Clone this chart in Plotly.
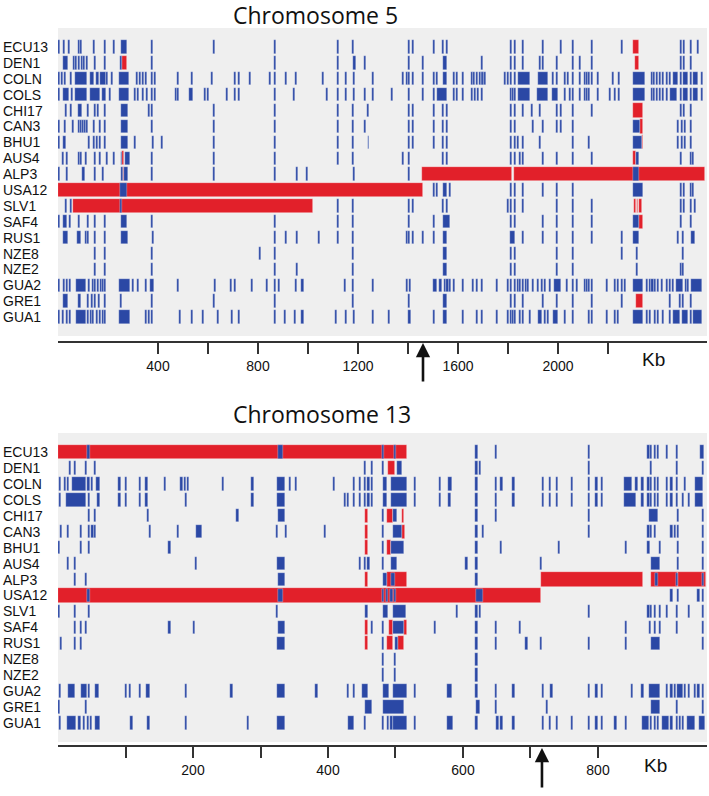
import plotly.graph_objects as go

# ---------------- Data ----------------
strains = ["ECU13", "DEN1", "COLN", "COLS", "CHI17", "CAN3", "BHU1", "AUS4", "ALP3",
           "USA12", "SLV1", "SAF4", "RUS1", "NZE8", "NZE2", "GUA2", "GRE1", "GUA1"]

# Chromosome 5 (kb). Number = single SNP tick, (start, end) = dense block
c5_ECU13 = [4, 24, 45, 83, 92, 145, 189, 224, (252, 277), 375, 624, 868, 1121, 1181, 1405, 1421, 1505, 1539, 1555,
            1812, 1828, 1861, 1941, 2011, 2061, 2136, 2256, 2491, 2505, 2531, 2561]
c5_DEN1 = [(21, 41), 64, 72, 83, 95, 105, 117, 148, 189, 251, 375, 868, 1121, (1178, 1190), 1228, 1405, 1459,
           (1539, 1555), 1695, 1812, 1828, 1861, 1928, 1941, 1995, 2061, 2088, 2136, 2491, 2505, 2531]
c5_COLN = [4, 15, 28, 51, (68, 117), (128, 144), (152, 163), (168, 192), 197, 215, (245, 285), 315, 328, 339, 351, 375,
           388, 481, 535, 615, 709, 723, 768, 848, 868, 912, 952, 1059, 1121, 1152, 1184, 1259, 1379, 1395, 1405,
           1421, 1459, 1505, 1515, (1539, 1555), 1584, 1597, 1621, 1655, 1665, 1675, 1688, 1695, 1701, 1708, 1788,
           1801, 1812, 1828, (1841, 1888), (1921, 1960), 1981, 1995, 2028, 2041, 2061, 2088, 2108, 2117, 2125, 2136,
           2161, 2221, 2245, (2301, 2348), 2375, 2385, 2395, 2408, 2421, 2435, 2448, (2461, 2481), 2491, (2501, 2521),
           2531, (2541, 2561), 2575]
c5_COLS = [4, (21, 45), 55, (68, 117), (128, 168), (175, 192), 208, (245, 285), 308, 321, 339, 355, 375, 388, 472, 481,
           (525, 539), 588, 601, 675, 709, 723, 868, 945, 1075, 1121, 1152, 1184, 1228, 1259, 1335, 1405, 1461, 1505,
           (1515, 1555), 1584, 1597, 1621, 1655, 1668, 1681, 1695, 1812, 1821, 1828, (1841, 1888), (1915, 1960),
           (1975, 2001), 2028, 2048, 2061, 2088, 2108, 2117, 2125, 2161, 2208, 2228, 2245, (2301, 2348), 2375, 2385,
           2395, 2408, 2421, 2435, (2448, 2475), 2491, (2501, 2521), 2531, (2541, 2561), 2575]
c5_CHI17 = [32, 51, (81, 95), 121, 148, 159, 189, (252, 281), 365, 375, 624, 868, 1121, 1181, 1241, 1405, 1421, 1505,
            1539, 1555, 1812, 1828, 1861, 1895, 1928, 1995, 2011, 2061, 2136, 2491, 2505, 2531]
c5_CAN3 = [4, (24, 32), 61, 83, 92, 100, 108, 117, 145, 168, 189, (252, 281), 375, 624, 868, 1121, 1181, 1228, 1405,
           1421, 1505, 1539, 1555, 1812, 1828, 1901, 1941, 1995, 2011, 2061, (2301, 2328), 2481, 2495, 2508, 2531]
c5_BHU1 = [4, (21, 32), 125, 145, 155, 168, 189, (252, 281), 308, (375, 384), 415, 624, 868, 1121, 1181, (1238, 1245),
           1405, 1421, 1505, 1539, 1555, 1812, 1828, 1841, 1861, 1928, 2061, 2125, (2301, 2335), 2481, 2495, 2508, 2531]
c5_AUS4 = [21, 35, 83, 92, 112, 148, 168, 195, 224, (252, 256), (266, 288), 375, 624, 868, 1121, 1181, 1379, 1405,
           1539, 1555, 1812, 1828, 1848, 1861, 1941, 1995, 2061, 2136, (2311, 2325), 2491, 2531, 2541]
c5_ALP3 = [4, 35, (95, 108), 148, 181, (252, 258), (265, 281), 375, 624, 868, 955, 997, 1184, 1405, (2301, 2325)]
c5_USA12 = [(248, 277), 1505, 1515, (1539, 1555), 1568, 1812, 1828, 1861, 1941, 1995, 2061, (2301, 2338), 2491,
            2505, 2531, 2541]
c5_SLV1 = [32, 51, 252, 1121, 1181, 1405, 1421, 1539, 1555, 1801, 1812, 1828, 1861, 1995, 2061, 2136, 2491, 2505,
           2531, 2548]
c5_SAF4 = [4, (21, 35), 48, 85, 121, 148, 189, (250, 277), 375, 868, 1121, 1181, 1405, 1505, (1539, 1568), 1812, 1828,
           1941, 1995, 2061, 2136, (2301, 2325), 2491, 2531]
c5_RUS1 = [(21, 41), (75, 92), 112, 121, 148, 189, (250, 280), (375, 384), 868, 911, 955, 1045, 1121, 1181, 1395, 1405,
           1421, 1461, 1505, (1539, 1555), (1808, 1828), 1861, 1941, 1995, 2061, 2136, 2256, (2301, 2325), 2481, 2501,
           (2531, 2548)]
c5_NZE8 = [148, 189, 375, 808, 868, 1181, (1539, 1555), 1812, 1828, 1995, 2061, 2256, 2315, 2501]
c5_NZE2 = [148, 189, 375, 868, 955, 1181, (1539, 1555), 1812, 1828, 1995, 2061, 2315, 2491, 2501]
c5_GUA2 = [4, 24, 35, 48, (72, 112), 125, 140, 148, (155, 163), 172, 181, 189, (245, 288), 301, 321, 351, (368, 384),
           481, (622, 630), 692, 708, 775, 835, 868, 885, 952, 978, 1147, 1181, 1259, 1395, 1408, (1500, 1515), 1530,
           1548, 1558, 1568, 1584, 1621, 1661, 1675, 1695, 1755, 1801, 1812, 1828, 1841, 1848, 1861, 1872, 1881,
           (1895, 1904), 1921, 1935, 1948, 1968, (1985, 2011), 2035, 2061, 2075, 2108, 2117, 2125, 2137, 2197, 2228,
           2241, 2255, 2268, (2301, 2341), 2355, 2368, 2378, 2388, 2401, 2415, 2435, 2448, 2461, (2471, 2501), 2511,
           2521, (2531, 2575)]
c5_GRE1 = [(21, 41), (80, 92), 121, 135, 148, 164, 189, 252, 375, 624, 868, 1181, 1405, (1539, 1555), 1812, 1828, 1861,
           1941, 1995, 2061, 2136, 2256, 2448, 2488, 2501, 2531]
c5_GUA1 = [4, 21, 35, 48, (72, 112), 121, 131, 141, 155, 168, 181, 189, (245, 288), 351, 365, 375, 488, 535, 579, 639,
           697, 723, 868, 908, 948, 978, 1111, 1152, 1184, 1259, 1325, (1398, 1410), 1505, (1539, 1555), 1621,
           (1671, 1681), 1695, 1755, 1801, 1812, 1821, 1828, 1848, 1861, 1888, (1921, 1935), 1948, 1961, (1981, 2001),
           2028, 2061, 2125, 2136, 2197, 2228, 2241, (2301, 2341), 2355, 2368, 2388, 2401, 2421, 2448, (2461, 2488),
           (2495, 2521), 2531, (2541, 2575)]

# red introgression segments, chromosome 5: (strain, start, end)
c5_red = [("ECU13", 2301, 2325), ("DEN1", 257, 275), ("DEN1", 2308, 2325), ("CHI17", 2301, 2341),
          ("CAN3", 2328, 2341), ("BHU1", 2335, 2341), ("AUS4", 257, 265), ("AUS4", 2301, 2311),
          ("ALP3", 259, 264), ("ALP3", 1455, 1817), ("ALP3", 1822, 2588), ("USA12", 0, 1461),
          ("SLV1", 61, 1021), ("SLV1", 2305, 2311), ("SLV1", 2315, 2321), ("SLV1", 2325, 2335),
          ("SAF4", 2325, 2341), ("GRE1", 2311, 2341)]

# Chromosome 13 (kb)
c13_ECU13 = [45, (326, 334), 481, 499, 620, 649, 787, 875, 879, 884, 889, 902, 917, (951, 957)]
c13_DEN1 = [18, 25, 41, 55, 455, 465, 481, (502, 509), 620, 625, 787, 879, 917, 956]
c13_COLN = [(1, 5), 10, 15, (20, 41), 45, 50, (57, 62), 91, 101, 121, 131, 158, 183, 188, 193, 244, 288, (324, 337),
            344, 353, 409, 438, 447, 455, 460, 465, (481, 487), (494, 517), 529, 566, (578, 583), 620, 649, 657, 675,
            719, 729, 739, 762, 787, 798, 806, (838, 850), 857, 866, 875, 879, 884, 889, 902, 909, 917, 929,
            (944, 956)]
c13_COLS = [(1, 5), (12, 41), 46, 60, 91, 101, 121, (129, 134), 190, 288, (324, 337), 425, 430, 439, 447, 455, 460,
            465, (481, 487), (494, 517), 529, 566, 580, 620, 649, 675, 719, 729, 739, 762, 787, 798, 806,
            (838, 857), 866, 875, 879, 884, 889, 902, 909, 917, 926, 935, (944, 956)]
c13_CHI17 = [46, 55, 133, 266, (326, 336), 481, (497, 502), 620, 649, 787, (875, 889), 919, 956]
c13_CAN3 = [4, 15, 34, 46, 51, 55, 136, 178, (205, 213), 324, 338, 396, 481, (497, 509), 620, 630, 787, 875, 879, 884,
            909, 914, 919, 956]
c13_BHU1 = [1, 34, 46, 165, 481, (494, 512), 620, 656, 742, 842, 875, 892, 919, 956]
c13_AUS4 = [15, 25, (203, 206), (324, 337), 447, 455, 460, 481, (494, 502), 605, 620, 716, (879, 892), 919, 956]
c13_ALP3 = [25, 41, (326, 336), (481, 487), (494, 499), 620, (884, 889), 917, 956]
c13_USA12 = [45, (326, 334), 481, 487, 494, 499, (620, 630), 909, 919, 949, 956]
c13_SLV1 = [1, 25, 46, 324, (455, 460), (481, 489), (497, 515), 591, 620, 625, 787, 875, 879, 884, 892, 902, 917,
            935, 956]
c13_SAF4 = [25, 34, 41, 165, (200, 203), (326, 337), 465, 481, (497, 512), 559, 620, 649, 684, 842, 877, 884, 892,
            917, 956]
c13_RUS1 = [4, 25, 34, (324, 337), 481, (499, 504), 620, 649, 694, 716, 787, 842, (879, 892), 956]
c13_NZE8 = [481, 499, 620]
c13_NZE2 = [481, 499, 620]
c13_GUA2 = [(1, 5), (15, 25), (34, 43), 46, (55, 60), 101, 107, 121, (131, 136), 190, 257, (324, 337), 383, 430, 438,
            (450, 460), (481, 491), (497, 517), 529, (576, 583), 620, 649, 675, 719, (729, 734), 787, 798, 806, 850,
            866, (875, 892), 902, 909, 914, (917, 926), 929, 935, 944, 949, 956]
c13_GRE1 = [1, 41, (455, 465), (481, 512), (620, 625), 649, 724, (879, 892), 917, 956]
c13_GUA1 = [(1, 5), (14, 26), 32, 38, 44, 49, (55, 62), 109, 134, 190, 282, (324, 337), (430, 438), 455, 482, 489,
            494, (497, 517), 529, (576, 585), 620, 651, 657, 675, 719, 729, 739, 762, 787, 798, 806, 826, 842,
            (865, 875), 879, 884, 889, (895, 905), 909, 917, 921, 926, (932, 944), (949, 958)]

c13_red = [("ECU13", 0, 517), ("DEN1", 489, 499), ("CHI17", 455, 459), ("CHI17", 487, 497), ("CHI17", 509, 512),
           ("CAN3", 455, 459), ("CAN3", 509, 514), ("BHU1", 455, 459), ("BHU1", 487, 494),
           ("ALP3", 455, 460), ("ALP3", 487, 517), ("ALP3", 716, 867), ("ALP3", 879, 918), ("ALP3", 919, 960),
           ("USA12", 0, 716), ("SAF4", 455, 460), ("SAF4", 491, 497), ("SAF4", 512, 517),
           ("RUS1", 455, 460), ("RUS1", 487, 497), ("RUS1", 504, 512)]

c5_ticks = [400, 600, 800, 1000, 1200, 1400, 1600, 1800, 2000, 2200]
c5_labels = ["400", "", "800", "", "1200", "", "1600", "", "2000", ""]
c13_ticks = [100, 200, 300, 400, 500, 600, 700, 800]
c13_labels = ["", "200", "", "400", "", "600", "", "800"]
c5_arrow_kb = 1460
c13_arrow_kb = 717

c5_blue = [c5_ECU13, c5_DEN1, c5_COLN, c5_COLS, c5_CHI17, c5_CAN3, c5_BHU1, c5_AUS4, c5_ALP3,
           c5_USA12, c5_SLV1, c5_SAF4, c5_RUS1, c5_NZE8, c5_NZE2, c5_GUA2, c5_GRE1, c5_GUA1]
c13_blue = [c13_ECU13, c13_DEN1, c13_COLN, c13_COLS, c13_CHI17, c13_CAN3, c13_BHU1, c13_AUS4, c13_ALP3,
            c13_USA12, c13_SLV1, c13_SAF4, c13_RUS1, c13_NZE8, c13_NZE2, c13_GUA2, c13_GRE1, c13_GUA1]

# ---------------- Figure ----------------
BLUE = "#2b48a5"
RED = "#e2202a"
GRAY = "#efefef"
W, H = 709, 796


def blue_trace(rows, tick_w, xa, ya):
    ys, bases, lens = [], [], []
    for i, lst in enumerate(rows):
        for m in lst:
            if isinstance(m, tuple):
                s, e = m
            else:
                s, e = m - tick_w / 2, m + tick_w / 2
            ys.append(i)
            bases.append(s)
            lens.append(e - s)
    return go.Bar(y=ys, x=lens, base=bases, orientation="h", width=0.84,
                  marker=dict(color=BLUE, line=dict(color="rgba(255,255,255,0.55)", width=0.5)),
                  xaxis=xa, yaxis=ya, showlegend=False, hoverinfo="skip")


def red_trace(segs, xa, ya):
    ys = [strains.index(s) for s, a, b in segs]
    bases = [a for s, a, b in segs]
    lens = [b - a for s, a, b in segs]
    return go.Bar(y=ys, x=lens, base=bases, orientation="h", width=0.9,
                  marker=dict(color=RED, line=dict(color="rgba(255,255,255,0.6)", width=0.6)),
                  xaxis=xa, yaxis=ya, showlegend=False, hoverinfo="skip")


fig = go.Figure()
fig.add_trace(red_trace(c5_red, "x", "y"))
fig.add_trace(blue_trace(c5_blue, 9, "x", "y"))
fig.add_trace(red_trace(c13_red, "x2", "y2"))
fig.add_trace(blue_trace(c13_blue, 3.4, "x2", "y2"))

xdom = [58 / W, 707 / W]
y1dom = [1 - 341 / H, 1 - 28 / H]
y2dom = [1 - 745 / H, 1 - 433 / H]

axis_common = dict(showgrid=False, zeroline=False, showline=True, linecolor="#333333", linewidth=1.6,
                   ticks="outside", ticklen=11, tickwidth=1.6, tickcolor="#333333",
                   tickfont=dict(family="Liberation Sans, Arial", size=14, color="#111111"))

fig.update_layout(
    width=W, height=H, margin=dict(l=0, r=0, t=0, b=0),
    paper_bgcolor="white", plot_bgcolor="white", barmode="overlay", bargap=0,
    xaxis=dict(domain=xdom, range=[0, 2596], tickvals=c5_ticks, ticktext=c5_labels, anchor="y", **axis_common),
    yaxis=dict(domain=y1dom, range=[18.51, -1.2], visible=False, anchor="x"),
    xaxis2=dict(domain=xdom, range=[0, 961.5], tickvals=c13_ticks, ticktext=c13_labels, anchor="y2", **axis_common),
    yaxis2=dict(domain=y2dom, range=[18.38, -1.19], visible=False, anchor="x2"),
)

# gray backgrounds of the two tracks
fig.add_shape(type="rect", xref="x domain", yref="y domain", x0=0, x1=1, y0=5 / 313, y1=1,
              fillcolor=GRAY, line_width=0, layer="below")
fig.add_shape(type="rect", xref="x2 domain", yref="y2 domain", x0=0, x1=1, y0=3 / 312, y1=1,
              fillcolor=GRAY, line_width=0, layer="below")

ann = []
# strain labels
for i, s in enumerate(strains):
    for ya in ("y", "y2"):
        ann.append(dict(text=s, x=2 / W, xref="paper", xanchor="left", y=i, yref=ya, yanchor="middle",
                        showarrow=False, borderpad=0,
                        font=dict(family="Liberation Sans, Arial", size=14, color="#111111")))
# titles
ann.append(dict(text="Chromosome 5", x=231 / W, y=1 - 15 / H, xref="paper", yref="paper", xanchor="left",
                yanchor="middle", showarrow=False, font=dict(family="Open Sans", size=23, color="#111111")))
ann.append(dict(text="Chromosome 13", x=231 / W, y=1 - 414 / H, xref="paper", yref="paper", xanchor="left",
                yanchor="middle", showarrow=False, font=dict(family="Open Sans", size=23, color="#111111")))
# Kb labels
ann.append(dict(text="Kb", x=653 / W, y=1 - 360 / H, xref="paper", yref="paper", showarrow=False,
                xanchor="center", yanchor="middle",
                font=dict(family="Liberation Sans, Arial", size=19, color="#111111")))
ann.append(dict(text="Kb", x=655 / W, y=1 - 765 / H, xref="paper", yref="paper", showarrow=False,
                xanchor="center", yanchor="middle",
                font=dict(family="Liberation Sans, Arial", size=19, color="#111111")))
# arrows
ann.append(dict(text="", x=c5_arrow_kb, xref="x", y=1 - 343 / H, yref="paper", showarrow=True, ax=0, ay=40,
                arrowhead=2, arrowsize=1.1, arrowwidth=2.6, arrowcolor="#111111", standoff=0))
ann.append(dict(text="", x=c13_arrow_kb, xref="x2", y=1 - 748 / H, yref="paper", showarrow=True, ax=0, ay=41,
                arrowhead=2, arrowsize=1.1, arrowwidth=2.6, arrowcolor="#111111", standoff=0))
fig.update_layout(annotations=ann)

fig.write_html("out.html", config={"displayModeBar": False},
               post_script="document.body.style.margin='0px';")
